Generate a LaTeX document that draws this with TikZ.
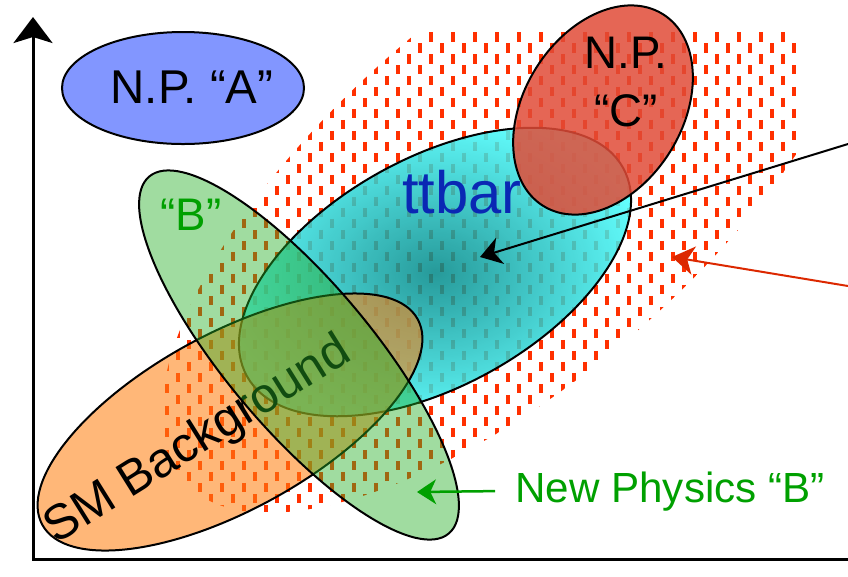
\documentclass[tikz,border=0pt]{standalone}
\usepackage{fontspec}
\setmainfont{Liberation Sans}
\usetikzlibrary{arrows.meta}
\definecolor{npBlue}{HTML}{8296FF}
\definecolor{npRed}{HTML}{E14B37}
\definecolor{sigGreen}{HTML}{27AF27}
\definecolor{smOrange}{HTML}{FF8012}
\definecolor{ttDark}{HTML}{008888}
\definecolor{ttLight}{HTML}{48FFFF}
\definecolor{ttText}{HTML}{0A28B4}
\definecolor{hatchRed}{HTML}{FF3000}
\definecolor{labelGreen}{HTML}{00A000}
\definecolor{arrowRed}{HTML}{DC2800}

\begin{document}
\begin{tikzpicture}[x=0.02cm, y=-0.02cm,
    blob/.style={draw=black, line width=0.04cm, fill=#1},
    lbl/.style={font=\fontsize{#1}{#1}\selectfont, inner sep=0pt},
    pointer/.style={line width=0.04cm,
                    -{Stealth[length=#1, width=1.3*#1, inset=0.3*#1]}},
  ]
    \useasboundingbox (0,0) rectangle (848,576);

    % hatched region
    \begin{scope}
      \clip (165,32) rectangle (797,512);
      \clip[rotate around={41:(515,192)}] (515,192) ellipse (440 and 185);
      \foreach \i in {0,...,57} {
        \pgfmathsetmacro\ph{mod(\i,2)*0.22}
        \draw[hatchRed, line width=0.065cm, dash pattern=on 0.19cm off 0.25cm,
              dash phase=\ph cm] (167+11*\i,32) -- (167+11*\i,512);
      }
    \end{scope}

    % ttbar
    \shadedraw[inner color=ttDark, outer color=ttLight, fill opacity=0.85,
               line width=0.04cm, rotate around={29:(435,272)}]
      (435,272) ellipse (215 and 114);
    \node[lbl=34, text=ttText, anchor=base] (ttLabel) at (462,213) {ttbar};

    % N.P. C
    \draw[blob=npRed, fill opacity=0.85, rotate around={58:(603,110)}]
      (603,110) ellipse (113 and 79);
    \node[lbl=26, align=center, font=\fontsize{26}{33}\selectfont]
      (npC) at (626,82) {N.P.\\“C”};

    % SM background
    \draw[blob=smOrange, fill opacity=0.57, rotate around={28.7:(230,422)}]
      (230,422) ellipse (214 and 88);
    \node[lbl=28, rotate=32, anchor=base] (smLabel) at (205,452) {SM Background};

    % N.P. B
    \draw[blob=sigGreen, fill opacity=0.44, rotate around={-50:(299,355)}]
      (299,355) ellipse (233 and 73);
    \node[lbl=26, text=labelGreen, anchor=base] (bLabel) at (191,230) {“B”};

    % N.P. A
    \draw[blob=npBlue] (183,88) ellipse (121 and 56);
    \node[lbl=27, anchor=base] (npA) at (192,103) {N.P. “A”};

    \node[lbl=24, text=labelGreen, anchor=base west] (npBText) at (515,502)
      {New Physics “B”};

    \coordinate (blackTail) at (848,144);
    \coordinate (ttCore) at (480,257);
    \coordinate (redTail) at (848,286);
    \coordinate (hatchEdge) at (672,257);
    \coordinate (bTip) at (417,492);
    \draw[pointer=0.42cm] (blackTail) -- (ttCore);
    \draw[pointer=0.44cm, arrowRed] (redTail) -- (hatchEdge);
    \draw[pointer=0.38cm, labelGreen, line width=0.05cm]
      ([xshift=-0.4cm]npBText.west) -- (bTip);

    % axes
    \coordinate (origin) at (33,559);
    \coordinate (yEnd) at (33,17);
    \coordinate (xEnd) at (848,559);
    \draw[line width=0.06cm, {Stealth[length=0.52cm, width=0.78cm, inset=0.12cm]}-]
      (yEnd) -- (origin) -- (xEnd);
  \end{tikzpicture}
\end{document}
